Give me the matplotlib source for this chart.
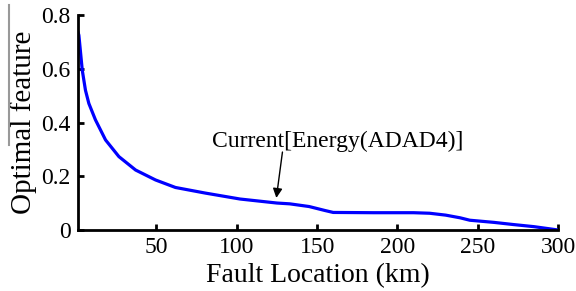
import matplotlib
matplotlib.use("Agg")
import matplotlib.pyplot as plt
from matplotlib.lines import Line2D

location_km = [1, 1.7, 3.8, 5.8, 7.9, 12, 18.3, 26.6, 37, 49.4, 61.8, 80.5, 102, 125, 133, 145, 155, 160, 185, 210, 220, 230, 239, 245, 260, 272, 285, 299.5]
feature = [0.74, 0.725, 0.595, 0.52, 0.471, 0.41, 0.335, 0.273, 0.223, 0.186, 0.158, 0.137, 0.115, 0.10, 0.097, 0.087, 0.072, 0.065, 0.064, 0.064, 0.062, 0.055, 0.045, 0.036, 0.028, 0.02, 0.012, 0.0]
xticks = [50, 100, 150, 200, 250, 300]
yticks = [0, 0.2, 0.4, 0.6, 0.8]
ytick_labels = ["0", "0.2", "0.4", "0.6", "0.8"]

plt.rcParams['font.family'] = ['Liberation Serif', 'DejaVu Serif']

fig = plt.figure(figsize=(5.76, 2.91), dpi=100)
ax = fig.add_axes([0.135, 0.21, 0.834, 0.738])
ax.plot(location_km, feature, color='#0000ff', lw=2.3, solid_capstyle='round', solid_joinstyle='round')
ax.set_xlim(1, 300)
ax.set_ylim(0, 0.8)
ax.set_xticks(xticks)
ax.set_yticks(yticks)
ax.set_yticklabels(ytick_labels)
for s in ['top', 'right']:
    ax.spines[s].set_visible(False)
for s in ['left', 'bottom']:
    ax.spines[s].set_linewidth(2)
ax.tick_params(direction='in', length=4, width=2, labelsize=17, pad=5)
ax.set_xlabel('Fault Location (km)', fontsize=20, labelpad=4)
ax.set_ylabel('Optimal feature', fontsize=21, labelpad=3)

ax.text(84.8, 0.309, 'Current[Energy(ADAD4)]', fontsize=17, ha='left', va='baseline')
ax.annotate('', xy=(124.6, 0.119), xytext=(128.4, 0.29),
            arrowprops=dict(arrowstyle='-|>', color='black', lw=1, mutation_scale=14, shrinkA=0, shrinkB=0))

fig.add_artist(Line2D([9/576, 9/576], [1 - 5/291, 1 - 145/291], color='#999999', lw=1.5))

fig.savefig('out.png', dpi=100)
